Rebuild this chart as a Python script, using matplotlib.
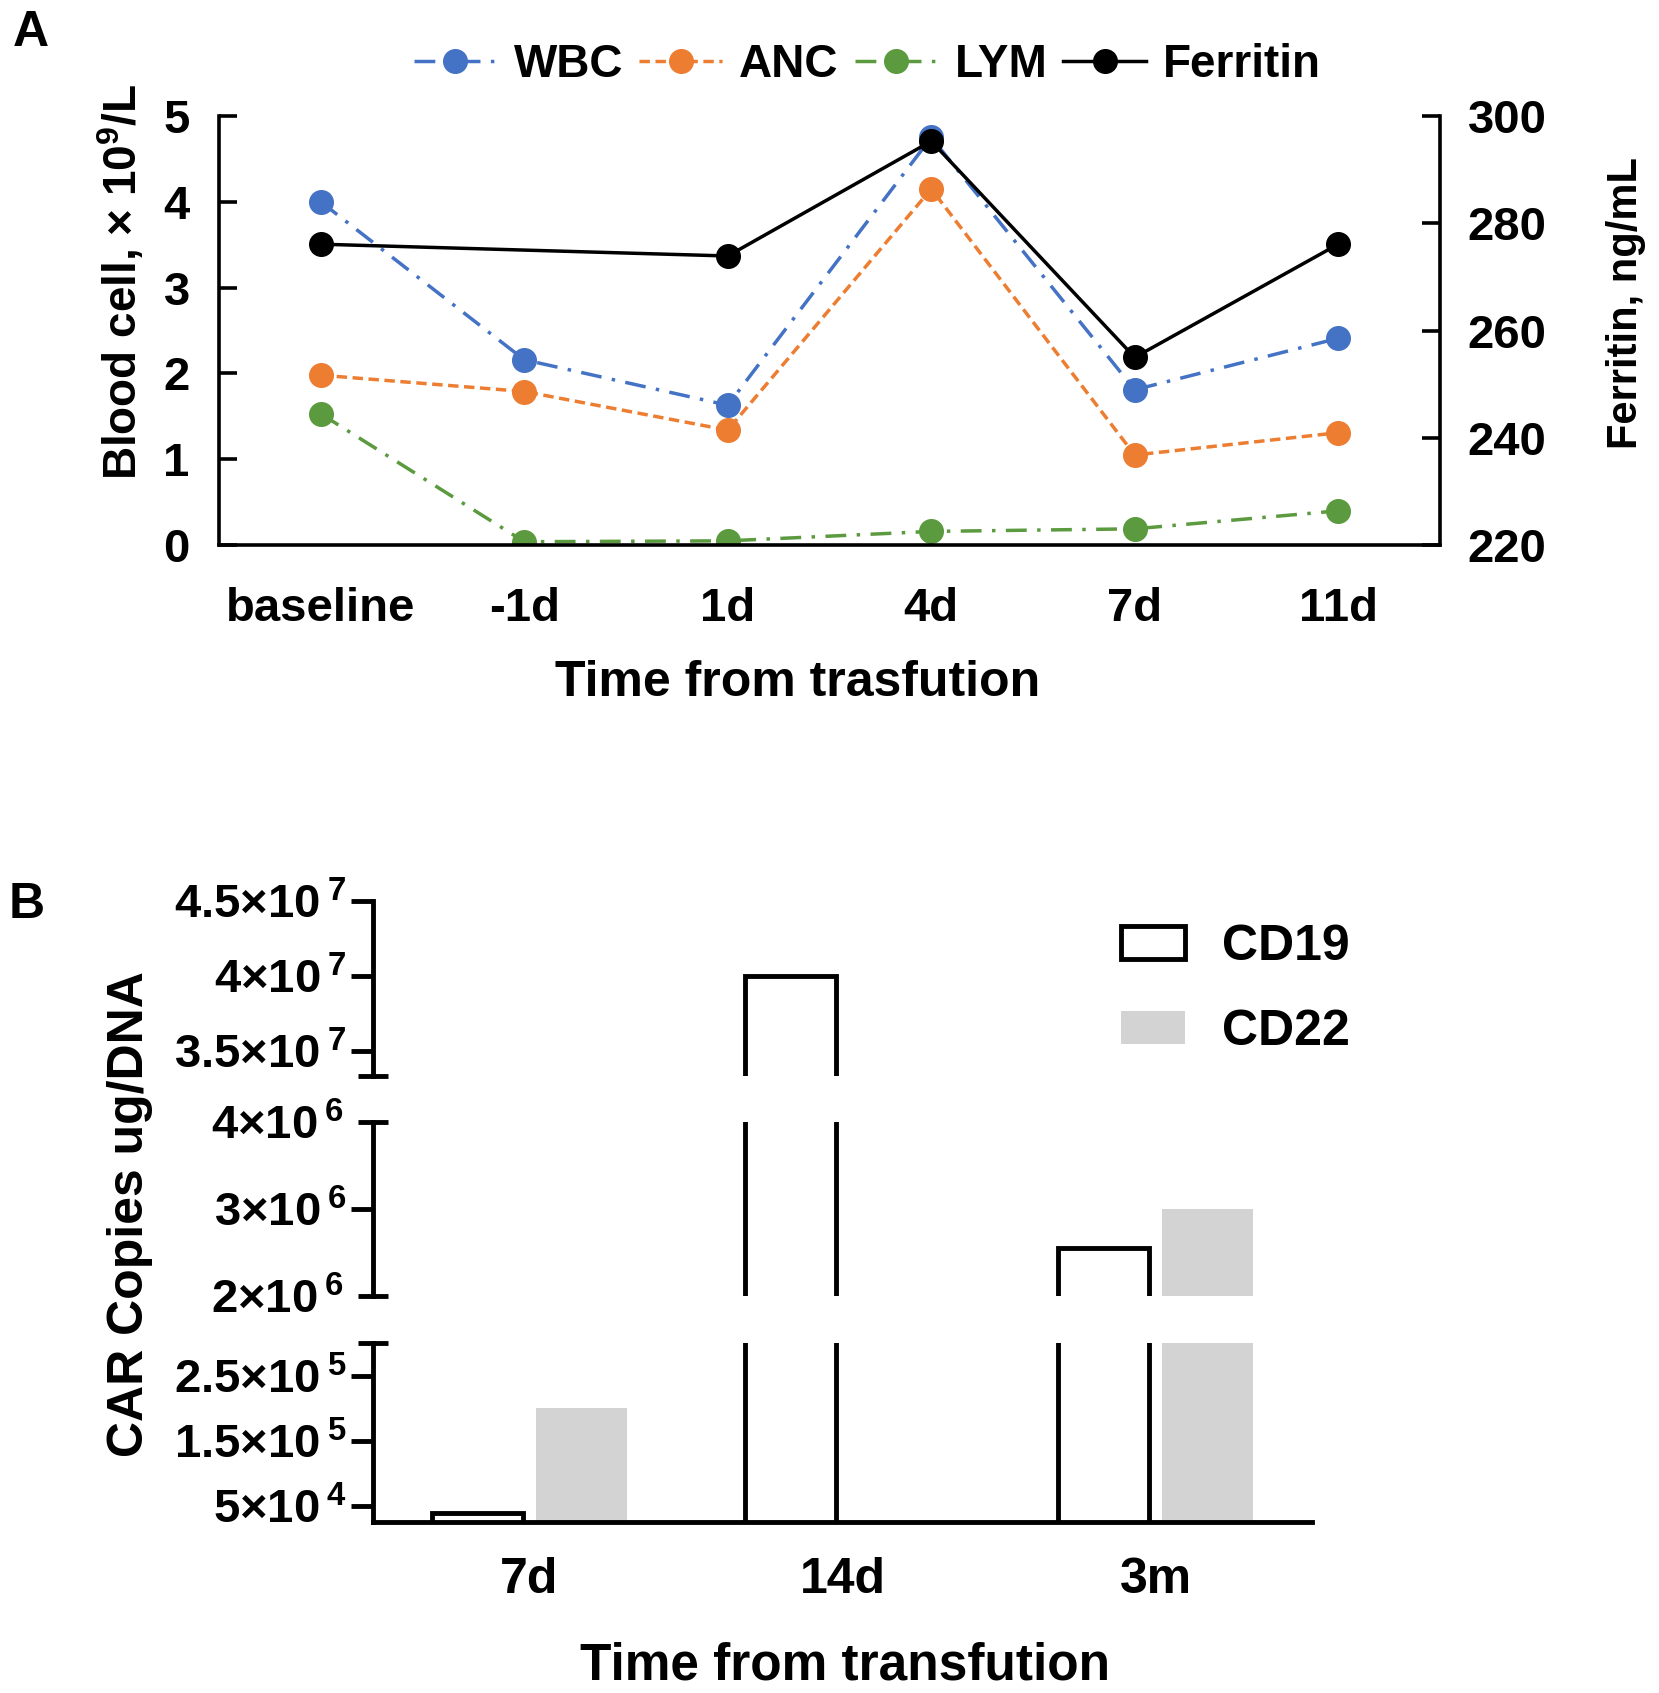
import numpy as np
import matplotlib
matplotlib.use("Agg")
import matplotlib.pyplot as plt

plt.rcParams['font.family'] = ['Liberation Sans', 'DejaVu Sans']
plt.rcParams['font.weight'] = 'bold'
plt.rcParams['mathtext.fontset'] = 'custom'
plt.rcParams['mathtext.rm'] = 'Liberation Sans:bold'
plt.rcParams['mathtext.bf'] = 'Liberation Sans:bold'
plt.rcParams['mathtext.it'] = 'Liberation Sans:bold'
plt.rcParams['mathtext.default'] = 'bf'

# ---------------- data: panel A ----------------
timepoints_a = ['baseline', '-1d', '1d', '4d', '7d', '11d']
wbc = [4.00, 2.16, 1.63, 4.75, 1.81, 2.41]
anc = [1.98, 1.79, 1.34, 4.15, 1.05, 1.31]
lym = [1.53, 0.04, 0.05, 0.16, 0.19, 0.40]
ferritin_times = ['baseline', '1d', '4d', '7d', '11d']
ferritin = [276.1, 273.9, 295.3, 255.0, 276.1]
left_ticks = [0, 1, 2, 3, 4, 5]
right_ticks = [220, 240, 260, 280, 300]

# ---------------- data: panel B ----------------
timepoints_b = ['7d', '14d', '3m']
cd19 = [4.0e4, 4.0e7, 2.55e6]
cd22 = [2.0e5, 0.0, 3.0e6]
seg_top_ticks = [3.5e7, 4.0e7, 4.5e7]
seg_top_labels = ['3.5×10$\\,^{7}$', '4×10$\\,^{7}$', '4.5×10$\\,^{7}$']
seg_mid_ticks = [3.0e6]
seg_mid_labels = ['3×10$\\,^{6}$']
seg_mid_end_ticks = [2.0e6, 4.0e6]
seg_mid_end_labels = ['2×10$\\,^{6}$', '4×10$\\,^{6}$']
seg_bot_ticks = [5.0e4, 1.5e5, 2.5e5]
seg_bot_labels = ['5×10$\\,^{4}$', '1.5×10$\\,^{5}$', '2.5×10$\\,^{5}$']
seg_top_lim = (3.33e7, 4.5e7)
seg_mid_lim = (2.0e6, 4.0e6)
seg_bot_lim = (2.6e4, 3.0e5)

C_WBC = '#4472C4'
C_ANC = '#ED7D31'
C_LYM = '#5B9A3E'
C_GRAY = '#D3D3D3'

W, H = 1659, 1693
fig = plt.figure(figsize=(W / 100, H / 100), dpi=100)

# ================= Panel A =================
axA = fig.add_axes([0.132, 0.678, 0.736, 0.2535])
axA2 = axA.twinx()
xa = np.arange(len(timepoints_a))
xf = np.array([timepoints_a.index(t) for t in ferritin_times])

lw = 2.5
ms = 17
l1, = axA.plot(xa, wbc, color=C_WBC, lw=lw, ls=(0, (6, 3, 1, 3)), marker='o', ms=ms, label='WBC')
l2, = axA.plot(xa, anc, color=C_ANC, lw=lw, ls=(0, (3, 1.6)), marker='o', ms=ms, label='ANC')
l3, = axA.plot(xa, lym, color=C_LYM, lw=lw, ls=(0, (6, 3, 1, 3)), marker='o', ms=ms, label='LYM')
l4, = axA2.plot(xf, ferritin, color='black', lw=lw, ls='-', marker='o', ms=ms, label='Ferritin')

axA.set_xlim(-0.5, len(timepoints_a) - 0.5)
axA.set_ylim(0, 5)
axA2.set_ylim(220, 300)
axA.set_xticks(xa, timepoints_a)
axA.set_yticks(left_ticks)
axA2.set_yticks(right_ticks)

for a in (axA, axA2):
    for s in a.spines.values():
        s.set_linewidth(2.6)
    a.spines['top'].set_visible(False)
axA.spines['right'].set_visible(False)
axA2.spines['left'].set_visible(False)
axA2.spines['bottom'].set_visible(False)

axA.tick_params(axis='y', direction='in', length=13, width=2.6, labelsize=34, pad=21)
axA.tick_params(axis='x', length=0, labelsize=34, pad=30)
axA2.tick_params(axis='y', direction='in', length=13, width=2.6, labelsize=34, pad=20)

axA.set_ylabel('Blood cell, × 10$^{9}$/L', fontsize=33, fontweight='bold', va='center', ha='center')
axA.yaxis.set_label_coords(-0.080, 0.613)
axA2.set_ylabel('Ferritin, ng/mL', fontsize=30, fontweight='bold', va='center', ha='center')
axA2.yaxis.set_label_coords(1.152, 0.564)
axA.set_xlabel('Time from trasfution', fontsize=36, fontweight='bold', va='center', ha='center')
axA.xaxis.set_label_coords(0.474, -0.322)

fig.legend(handles=[l1, l2, l3, l4], loc='center', bbox_to_anchor=(0.523, 0.9615),
           ncol=4, frameon=False, fontsize=33, handlelength=1.8, handletextpad=0.38,
           columnspacing=0.35, borderpad=0, borderaxespad=0)

fig.text(31 / W, 1 - 33 / H, 'A', fontsize=36, fontweight='bold', ha='center', va='center')

# ================= Panel B =================
bx0, bx1 = 373 / W, 1312 / W
def frac(top_px, bot_px):
    return [bx0, 1 - bot_px / H, bx1 - bx0, (bot_px - top_px) / H]

ax_top = fig.add_axes(frac(901, 1076))
ax_mid = fig.add_axes(frac(1122, 1296), sharex=ax_top)
ax_bot = fig.add_axes(frac(1343, 1522), sharex=ax_top)

xb = np.arange(len(timepoints_b))
bw = 0.29
off = 0.165
blw = 3.5
handles_b = None
for ax in (ax_top, ax_mid, ax_bot):
    b19 = ax.bar(xb - off, cd19, width=bw, facecolor='white', edgecolor='black', linewidth=blw, label='CD19')
    b22 = ax.bar(xb + off, cd22, width=bw, color=C_GRAY, linewidth=0, label='CD22')
    if handles_b is None:
        handles_b = [b19, b22]
    for s in ('top', 'right', 'bottom'):
        ax.spines[s].set_visible(False)
    ax.spines['left'].set_linewidth(blw)
    ax.tick_params(axis='y', which='major', direction='out', length=16, width=blw, labelsize=34, pad=3)
    ax.tick_params(axis='y', which='minor', direction='inout', length=22, width=blw, labelsize=34, pad=10)

ax_top.set_xlim(-0.5, len(timepoints_b) - 0.5)
ax_top.set_ylim(*seg_top_lim)
ax_mid.set_ylim(*seg_mid_lim)
ax_bot.set_ylim(*seg_bot_lim)

ax_top.set_yticks(seg_top_ticks, seg_top_labels)
ax_top.set_yticks([seg_top_lim[0]], [''], minor=True)
ax_mid.set_yticks(seg_mid_ticks, seg_mid_labels)
ax_mid.set_yticks(seg_mid_end_ticks, seg_mid_end_labels, minor=True)
ax_bot.set_yticks(seg_bot_ticks, seg_bot_labels)
ax_bot.set_yticks([seg_bot_lim[1]], [''], minor=True)

for ax in (ax_top, ax_mid):
    ax.tick_params(axis='x', which='both', bottom=False, labelbottom=False)
ax_bot.spines['bottom'].set_visible(True)
ax_bot.spines['bottom'].set_linewidth(blw)
ax_bot.set_xticks(xb, timepoints_b)
ax_bot.tick_params(axis='x', length=0, labelsize=36, pad=25)

ax_bot.set_xlabel('Time from transfution', fontsize=37, fontweight='bold', va='center', ha='center')
ax_bot.xaxis.set_label_coords(0.503, -0.805)
ax_mid.set_ylabel('CAR Copies ug/DNA', fontsize=36, fontweight='bold', va='center', ha='center')
ax_mid.yaxis.set_label_coords(-0.259, 0.471)

ax_top.legend(handles=handles_b, loc='upper left', bbox_to_anchor=(1121 / W, 1 - 924 / H),
              bbox_transform=fig.transFigure, frameon=False, fontsize=36,
              handlelength=1.28, handleheight=0.62, handletextpad=0.75,
              labelspacing=0.78, borderpad=0, borderaxespad=0)

fig.text(27 / W, 1 - 905 / H, 'B', fontsize=36, fontweight='bold', ha='center', va='center')

fig.savefig('out.png', dpi=100)
